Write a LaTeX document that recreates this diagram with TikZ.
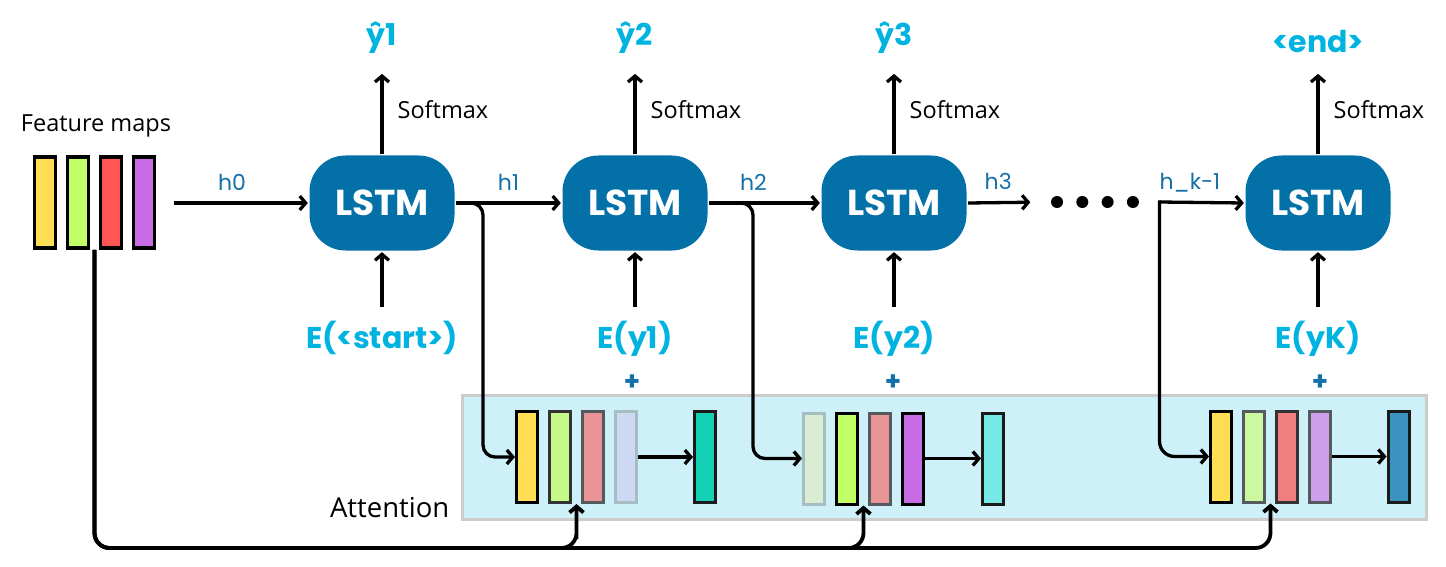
\documentclass[tikz,border=0pt]{standalone}
\usepackage{fontspec}
\setmainfont{Open Sans}
\newfontfamily\popfont{Poppins}
\usepackage{tikz}
\usetikzlibrary{arrows.meta, positioning, calc}

\definecolor{lstmblue}{HTML}{0470A8}
\definecolor{hblue}{HTML}{1570A8}
\definecolor{lblcyan}{HTML}{00B3E0}
\definecolor{attfill}{HTML}{CEF0F8}
\definecolor{attedge}{HTML}{CCCCCC}
\definecolor{fyel}{HTML}{FFDD55}
\definecolor{fgrn}{HTML}{C1FF66}
\definecolor{fred}{HTML}{FF5555}
\definecolor{fpur}{HTML}{C86CE6}
\definecolor{agrn}{HTML}{C5FA8A}
\definecolor{ared}{HTML}{EA9497}
\definecolor{alav}{HTML}{CDD8F2}
\definecolor{ateal}{HTML}{14D0B5}
\definecolor{bpale}{HTML}{DAEDD2}
\definecolor{bcyan}{HTML}{76E8E6}
\definecolor{cgrn}{HTML}{CBF8A0}
\definecolor{cred}{HTML}{F08080}
\definecolor{clav}{HTML}{CD9FEB}
\definecolor{cblue}{HTML}{3C93C0}
\definecolor{edgeA}{HTML}{333333}
\definecolor{edgeB}{HTML}{555A5E}
\definecolor{edgeC}{HTML}{A5BEC4}
\definecolor{edgeD}{HTML}{1A1A1A}

\begin{document}
\begin{tikzpicture}[x=1pt, y=-1pt, line width=3.3pt,
    >={Straight Barb[length=6pt,width=14pt]},
    lstm/.style={fill=lstmblue, rounded corners=36pt, minimum width=145pt, minimum height=95pt,
        text=white, font=\popfont\bfseries\fontsize{36}{40}\selectfont},
    outlbl/.style={text=lblcyan, inner ysep=19pt, font=\popfont\bfseries\fontsize{30}{34}\selectfont},
    inlbl/.style={text=lblcyan, inner ysep=12pt, font=\popfont\bfseries\fontsize{30}{34}\selectfont},
    smx/.style={anchor=west, inner sep=0pt, xshift=14pt, pos=0.55, font=\fontsize{23.5}{27}\selectfont},
    hlbl/.style={anchor=base, yshift=13pt, inner sep=0pt, text=hblue, font=\popfont\fontsize{22}{26}\selectfont},
    plus/.style={text=hblue, font=\popfont\bfseries\fontsize{26}{30}\selectfont},
    bar/.style={draw, line width=3pt, minimum width=21pt, minimum height=91pt, inner sep=0pt},
    dot/.style={circle, fill=black, minimum size=12pt, inner sep=0pt},
    attbox/.style={fill=attfill, draw=attedge, line width=3pt, minimum width=964pt, minimum height=124pt}]
\useasboundingbox (0,0) rectangle (1446,567);

% feature maps
\node[font=\fontsize{23.5}{27}\selectfont] (fmt) at (96,126) {Feature maps};
\foreach \fc [count=\i] in {fyel,fgrn,fred,fpur}
    \node[bar, fill=\fc, line width=3.6pt] (fm\i) at ({45+33*(\i-1)},202.5) {};

% attention
\node[attbox] (att) at (944.5,457.5) {};
\node[anchor=base east, inner sep=0pt, font=\fontsize{27.5}{31}\selectfont] (attn) at ([xshift=-10pt,yshift=4pt]att.south west) {Attention};
\foreach \fc/\dc [count=\i] in {fyel/black,agrn/edgeA,ared/edgeB,alav/edgeC}
    \node[bar, fill=\fc, draw=\dc] (a1-\i) at ({527+33*(\i-1)},457) {};
\node[bar, fill=ateal, draw=edgeD] (ctx1) at (705,457) {};
\foreach \fc/\dc [count=\i] in {bpale/edgeC,fgrn/black,ared/edgeB,fpur/black}
    \node[bar, fill=\fc, draw=\dc] (a2-\i) at ({814+33*(\i-1)},458.5) {};
\node[bar, fill=bcyan, draw=edgeD] (ctx2) at (993,458.5) {};
\foreach \fc/\dc [count=\i] in {fyel/black,cgrn/edgeB,cred/edgeA,clav/edgeB}
    \node[bar, fill=\fc, draw=\dc] (a3-\i) at ({1221+33*(\i-1)},456.5) {};
\node[bar, fill=cblue, draw=edgeD] (ctx3) at (1398.5,456.5) {};
\draw[->] (a1-4.east) -- (ctx1.west);
\draw[->] (a2-4.east) -- (ctx2.west);
\draw[->] (a3-4.east) -- (ctx3.west);

\node[plus] (p1) at (632,383) {+};
\node[plus] (p2) at (893,383) {+};
\node[plus] (p3) at (1320,383) {+};

% LSTM cells
\node[lstm] (lstm1) at (382,203) {LSTM};
\node[lstm] (lstm2) at (635,203) {LSTM};
\node[lstm] (lstm3) at (894,203) {LSTM};
\node[lstm] (lstm4) at (1318,203) {LSTM};

% outputs
\node[outlbl, above=80pt of lstm1] (o1) {ŷ1};
\node[outlbl, above=80pt of lstm2] (o2) {ŷ2};
\node[outlbl, above=80pt of lstm3] (o3) {ŷ3};
\node[outlbl, above=80pt of lstm4] (o4) {<end>};
\foreach \i in {1,...,4}
    \draw[->] (lstm\i) -- node[smx] (s\i) {Softmax} (o\i);

% inputs
\node[inlbl, below=55pt of lstm1] (e1) {E(<start>)};
\node[inlbl, below=55pt of lstm2] (e2) {E(y1)};
\node[inlbl, below=55pt of lstm3] (e3) {E(y2)};
\node[inlbl, below=55pt of lstm4] (e4) {E(yK)};
\foreach \i in {1,...,4}
    \draw[->] (e\i) -- (lstm\i);

% hidden states
\foreach \i in {1,...,4}
    \node[dot] (d\i) at ({1057+25.3*(\i-1)},202) {};
\draw[->, shorten <=18pt] (fm4.east |- lstm1.west) -- node[hlbl] (h0) {h0} (lstm1.west);
\draw[->] (lstm1) -- node[hlbl] (h1) {h1} (lstm2);
\draw[->] (lstm2) -- node[hlbl, pos=0.4] (h2) {h2} (lstm3);
\draw[->, shorten >=19pt] (lstm3.east) -- node[hlbl, pos=0.37] (h3) {h3} (d1.west);
\coordinate (hsplit) at ([xshift=19pt]d4.east);
\draw[->] (hsplit) -- node[hlbl, pos=0.36] (hk) {h\_k-1} (lstm4.west);

% into attention
\draw[->, rounded corners=12pt] (lstm1.east) -| ([xshift=-32pt]a1-1.west) -- (a1-1.west);
\draw[->, rounded corners=12pt] (lstm2.east) -| ([xshift=-49pt]a2-1.west) -- (a2-1.west);
\draw[->, rounded corners=15pt, line cap=rect] (hsplit) |- (a3-1.west);

% features to attention
\coordinate (fmb) at ($(fm2.south)!.5!(fm3.south)$);
\coordinate (t1) at ($(a1-2.south)!.5!(a1-3.south)$);
\coordinate (t2) at ($(a2-2.south)!.5!(a2-3.south)$);
\coordinate (t3) at ($(a3-2.south)!.5!(a3-3.south)$);
\coordinate (bus) at ([yshift=-44pt]t1);
\foreach \i in {1,2,3}
    \draw[->, line width=3.8pt, rounded corners=15pt] (fmb) |- (bus) -| (t\i);
\end{tikzpicture}
\end{document}
